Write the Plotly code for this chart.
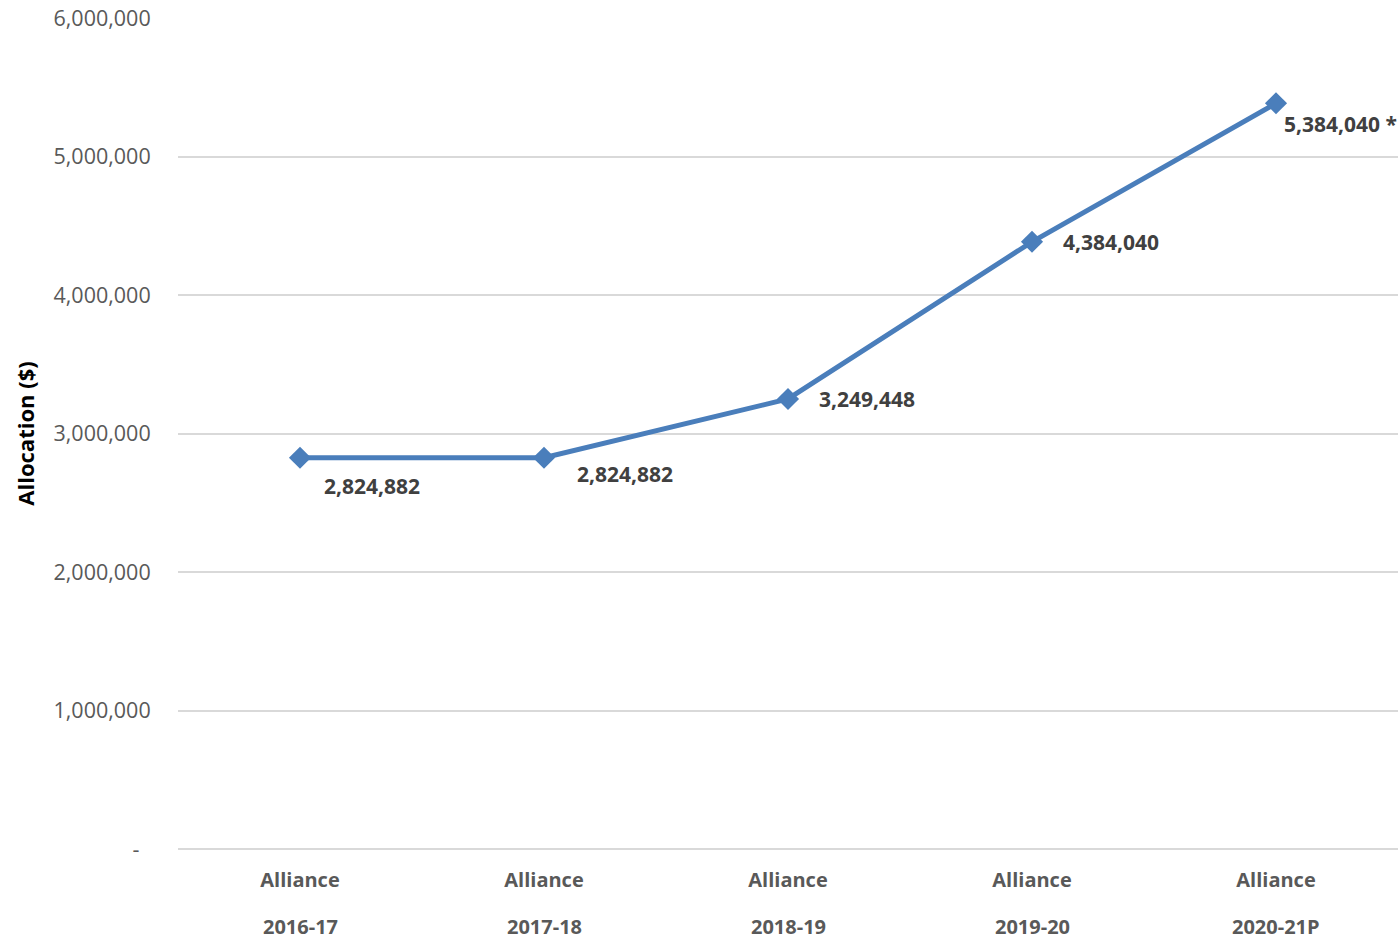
import plotly.graph_objects as go

programs = ["Alliance", "Alliance", "Alliance", "Alliance", "Alliance"]
years = ["2016-17", "2017-18", "2018-19", "2019-20", "2020-21P"]
allocation = [2824882, 2824882, 3249448, 4384040, 5384040]
label_suffix = ["", "", "", "", " *"]
y_ticks = [0, 1000000, 2000000, 3000000, 4000000, 5000000, 6000000]
y_ticktext = ["-\u00a0\u00a0", "1,000,000", "2,000,000", "3,000,000", "4,000,000", "5,000,000", "6,000,000"]

# label offsets (style only)
label_dx = [22, 31, 29, 29, 6]
label_dy = [-28, -16, 0, 0, -21]

FONT = "Open Sans"
LINE_COLOR = "#4a7ebb"

fig = go.Figure()
fig.add_trace(go.Scatter(
    x=years, y=allocation, mode="lines+markers",
    line=dict(color=LINE_COLOR, width=5),
    marker=dict(symbol="diamond", size=17, color=LINE_COLOR),
    cliponaxis=False, showlegend=False, hoverinfo="skip",
))

for i, (yr, v) in enumerate(zip(years, allocation)):
    fig.add_annotation(
        x=yr, y=v, xref="x", yref="y",
        text=f"{v:,}{label_suffix[i]}", showarrow=False,
        xanchor="left", yanchor="middle",
        xshift=label_dx[i], yshift=label_dy[i],
        font=dict(family=FONT, size=21, color="#404040", weight="bold"),
    )
    fig.add_annotation(
        x=yr, y=0, xref="x", yref="paper",
        text=yr, showarrow=False, xanchor="center", yanchor="middle",
        yshift=-77,
        font=dict(family=FONT, size=20, color="#595959", weight="bold"),
    )

fig.update_layout(
    width=1398, height=939,
    margin=dict(l=178, r=0, t=18, b=90),
    paper_bgcolor="white", plot_bgcolor="white",
    font=dict(family=FONT),
    xaxis=dict(
        type="category", range=[-0.5, 4.5],
        tickmode="array", tickvals=years, ticktext=programs,
        tickfont=dict(family=FONT, size=20, color="#595959", weight="bold"),
        showgrid=False, zeroline=False, showline=False,
        ticks="outside", ticklen=0, ticklabelstandoff=13,
    ),
    yaxis=dict(
        range=[0, 6000000], tickmode="array", tickvals=y_ticks, ticktext=y_ticktext,
        tickfont=dict(family=FONT, size=21.5, color="#595959"),
        showgrid=True, gridcolor="#d9d9d9", gridwidth=1.5,
        zeroline=True, zerolinecolor="#d9d9d9", zerolinewidth=1.5,
        showline=False, ticks="outside", ticklen=0, ticklabelstandoff=22,
        title=dict(text="Allocation ($)", standoff=12,
                   font=dict(family=FONT, size=22, color="black", weight="bold")),
    ),
)

fig.write_html("out.html", config={"displayModeBar": False},
               post_script="document.body.style.margin='0';document.body.style.overflow='hidden';")
